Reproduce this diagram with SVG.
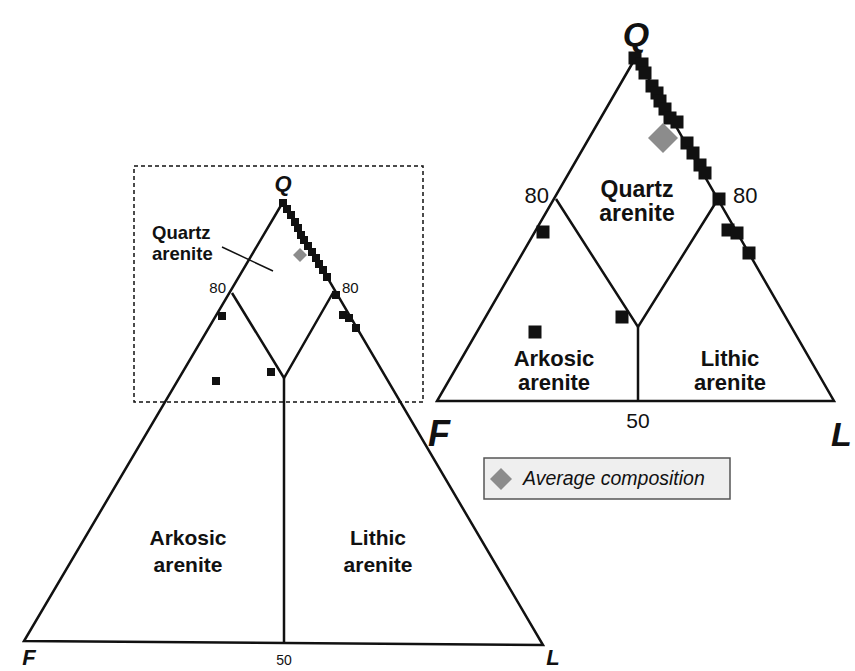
<svg xmlns="http://www.w3.org/2000/svg" width="855" height="671" viewBox="0 0 855 671">
<style>
.ln{fill:none;stroke:#111;stroke-width:2.5;stroke-linejoin:miter}
.thin{fill:none;stroke:#111;stroke-width:1.5}
.sq{fill:#111}
.dia{fill:#8c8c8c}
text{font-family:"Liberation Sans",Arial,sans-serif;fill:#111}
.apex{font-weight:bold;font-style:italic}
.lab{font-weight:bold;text-anchor:middle}
.num{text-anchor:middle}
</style>
<defs>
<rect id="s8" x="-4" y="-4" width="8" height="8" class="sq"/>
<rect id="s13" x="-6.5" y="-6.5" width="13" height="13" class="sq"/>
</defs>
<rect width="855" height="671" fill="#fff"/>

<g id="left-diagram">
<rect id="zoom-box" x="134" y="166" width="289" height="236" fill="none" stroke="#111" stroke-width="1.5" stroke-dasharray="4,3"/>
<g id="connectors-left">
<polygon class="ln" points="283,202 24,641 543,645"/>
<polyline class="ln" points="232,293 284,378 334,291"/>
<line class="ln" x1="284" y1="378" x2="284" y2="643"/>
<line class="thin" x1="222" y1="247" x2="273" y2="271"/>
</g>
<g id="left-labels">
<text class="apex" x="283" y="191" font-size="22" text-anchor="middle">Q</text>
<text class="apex" x="29" y="665" font-size="22" text-anchor="middle">F</text>
<text class="apex" x="553" y="665" font-size="22" text-anchor="middle">L</text>
<text class="num" x="284" y="665" font-size="14">50</text>
<text x="226" y="293" font-size="15" text-anchor="end">80</text>
<text x="342" y="293" font-size="15">80</text>
<text x="152" y="239" font-size="18.5" font-weight="bold">Quartz</text>
<text x="152" y="260" font-size="18.5" font-weight="bold">arenite</text>
<text class="lab" x="188" y="545" font-size="21">Arkosic</text>
<text class="lab" x="188" y="572" font-size="21">arenite</text>
<text class="lab" x="378" y="545" font-size="21">Lithic</text>
<text class="lab" x="378" y="572" font-size="21">arenite</text>
</g>
<g id="left-points">
<use href="#s8" x="283" y="203"/><use href="#s8" x="287" y="209"/><use href="#s8" x="291" y="215"/>
<use href="#s8" x="295" y="222"/><use href="#s8" x="298" y="228"/><use href="#s8" x="301" y="235"/>
<use href="#s8" x="304" y="240"/><use href="#s8" x="308" y="246"/><use href="#s8" x="312" y="252"/>
<use href="#s8" x="316" y="258"/><use href="#s8" x="319" y="264"/><use href="#s8" x="323" y="270"/>
<use href="#s8" x="327" y="277"/><use href="#s8" x="336" y="295"/><use href="#s8" x="343" y="315"/>
<use href="#s8" x="349" y="318"/><use href="#s8" x="356" y="328"/><use href="#s8" x="222" y="316"/>
<use href="#s8" x="216" y="381"/><use href="#s8" x="271" y="372"/>
<polygon class="dia" points="300,248 307,255 300,262 293,255"/>
</g>
</g>

<g id="right-diagram">
<g id="connectors-right">
<polygon class="ln" points="636,57 437,401 834,401"/>
<polyline class="ln" points="556,199 638,327 718,199"/>
<line class="ln" x1="638" y1="327" x2="638" y2="401"/>
</g>
<g id="right-labels">
<text class="apex" x="636" y="46" font-size="34" text-anchor="middle">Q</text>
<text class="apex" x="439" y="446" font-size="36" text-anchor="middle">F</text>
<text class="apex" x="831" y="446" font-size="34">L</text>
<text class="num" x="638" y="428" font-size="21">50</text>
<text x="549" y="203" font-size="22" text-anchor="end">80</text>
<text x="733" y="203" font-size="22">80</text>
<text class="lab" x="637" y="197" font-size="23">Quartz</text>
<text class="lab" x="637" y="221" font-size="23">arenite</text>
<text class="lab" x="554" y="366" font-size="22">Arkosic</text>
<text class="lab" x="554" y="390" font-size="22">arenite</text>
<text class="lab" x="730" y="366" font-size="22">Lithic</text>
<text class="lab" x="730" y="390" font-size="22">arenite</text>
</g>
<g id="right-points">
<use href="#s13" x="635" y="58"/><use href="#s13" x="642" y="64"/><use href="#s13" x="645" y="73"/>
<use href="#s13" x="652" y="86"/><use href="#s13" x="657" y="93"/><use href="#s13" x="660" y="101"/>
<use href="#s13" x="665" y="109"/><use href="#s13" x="670" y="118"/><use href="#s13" x="677" y="122"/>
<use href="#s13" x="687" y="143"/><use href="#s13" x="693" y="153"/><use href="#s13" x="700" y="165"/>
<use href="#s13" x="705" y="173"/><use href="#s13" x="719" y="199"/><use href="#s13" x="728" y="230"/>
<use href="#s13" x="737" y="233"/><use href="#s13" x="749" y="253"/><use href="#s13" x="543" y="232"/>
<use href="#s13" x="535" y="332"/><use href="#s13" x="622" y="317"/>
<polygon class="dia" points="663,123 678,138 663,153 648,138"/>
</g>
</g>

<g id="legend">
<rect x="484" y="458" width="246" height="41" fill="#efefef" stroke="#555" stroke-width="1.5"/>
<polygon class="dia" points="501,468 512,479 501,490 490,479"/>
<text x="523" y="485" font-size="19.5" font-style="italic">Average composition</text>
</g>
</svg>
